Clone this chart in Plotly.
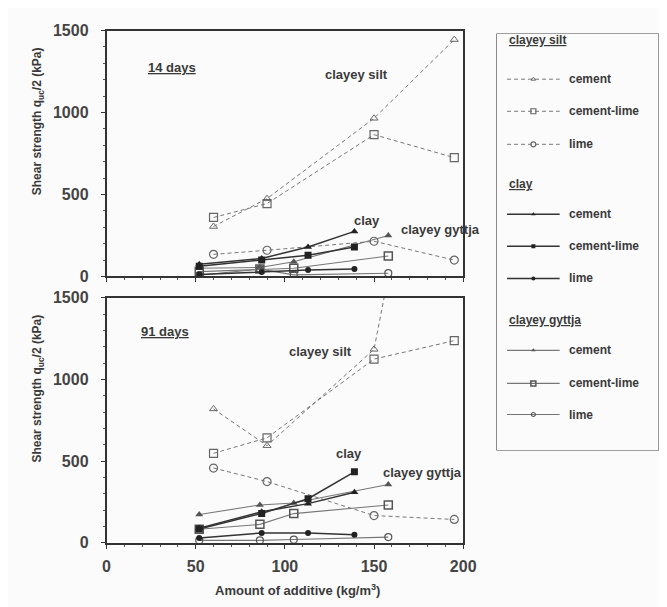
import plotly.graph_objects as go

W, H = 667, 607

# ---------------- data ----------------
x_ticks = [0, 50, 100, 150, 200]
y_ticks = [0, 500, 1000, 1500]

silt_x = [60, 90, 150, 195]
clay_x = [52, 87, 113, 139]
gyttja_x = [52, 86, 105, 158]

# 14 days
silt_cement_14 = [305, 475, 965, 1445]
silt_cementlime_14 = [360, 445, 865, 725]
silt_lime_14 = [135, 160, 215, 100]
clay_cement_14 = [75, 110, 180, 275]
clay_cementlime_14 = [62, 100, 130, 180]
clay_lime_14 = [12, 28, 40, 45]
gyttja_cement_14 = [50, 55, 90, 250]
gyttja_cementlime_14 = [30, 45, 50, 125]
gyttja_lime_14 = [8, 45, 10, 20]

# 91 days
silt_cement_91 = [820, 595, 1185, 3700]
silt_cementlime_91 = [548, 643, 1125, 1238]
silt_lime_91 = [458, 375, 167, 143]
clay_cement_91 = [90, 190, 240, 310]
clay_cementlime_91 = [85, 180, 270, 435]
clay_lime_91 = [30, 60, 60, 50]
gyttja_cement_91 = [173, 232, 244, 357]
gyttja_cementlime_91 = [83, 113, 179, 232]
gyttja_lime_91 = [15, 15, 20, 35]

# ---------------- styles ----------------
TXT = "#3a3a3a"
FONT = "Liberation Sans"
DASH = "4px,3px"
styles = {
    "silt_cement": dict(line=dict(color="#777", width=1, dash=DASH),
                        marker=dict(symbol="triangle-up-open", size=7, color="#666", line=dict(width=1))),
    "silt_cementlime": dict(line=dict(color="#777", width=1, dash=DASH),
                            marker=dict(symbol="square-open", size=8, color="#666", line=dict(width=1.2))),
    "silt_lime": dict(line=dict(color="#777", width=1, dash=DASH),
                      marker=dict(symbol="circle-open", size=8, color="#666", line=dict(width=1.2))),
    "clay_cement": dict(line=dict(color="#333", width=1.5),
                        marker=dict(symbol="triangle-up", size=7, color="#222")),
    "clay_cementlime": dict(line=dict(color="#333", width=1.5),
                            marker=dict(symbol="square", size=7, color="#222")),
    "clay_lime": dict(line=dict(color="#333", width=1.5),
                      marker=dict(symbol="circle", size=6, color="#222")),
    "gyttja_cement": dict(line=dict(color="#777", width=1.1),
                          marker=dict(symbol="triangle-up", size=7, color="#555")),
    "gyttja_cementlime": dict(line=dict(color="#777", width=1.1),
                              marker=dict(symbol="square-open", size=8, color="#555", line=dict(width=1.5))),
    "gyttja_lime": dict(line=dict(color="#777", width=1.1),
                        marker=dict(symbol="circle-open", size=7, color="#555", line=dict(width=1.2))),
}

panels = {
    ("x", "y"): [
        ("silt_cement", silt_x, silt_cement_14),
        ("silt_cementlime", silt_x, silt_cementlime_14),
        ("silt_lime", silt_x, silt_lime_14),
        ("gyttja_cement", gyttja_x, gyttja_cement_14),
        ("gyttja_cementlime", gyttja_x, gyttja_cementlime_14),
        ("gyttja_lime", gyttja_x, gyttja_lime_14),
        ("clay_cement", clay_x, clay_cement_14),
        ("clay_cementlime", clay_x, clay_cementlime_14),
        ("clay_lime", clay_x, clay_lime_14),
    ],
    ("x2", "y2"): [
        ("silt_cement", silt_x, silt_cement_91),
        ("silt_cementlime", silt_x, silt_cementlime_91),
        ("silt_lime", silt_x, silt_lime_91),
        ("gyttja_cement", gyttja_x, gyttja_cement_91),
        ("gyttja_cementlime", gyttja_x, gyttja_cementlime_91),
        ("gyttja_lime", gyttja_x, gyttja_lime_91),
        ("clay_cement", clay_x, clay_cement_91),
        ("clay_cementlime", clay_x, clay_cementlime_91),
        ("clay_lime", clay_x, clay_lime_91),
    ],
}

fig = go.Figure()
for (xa, ya), series in panels.items():
    for key, xs, ys in series:
        st = styles[key]
        fig.add_trace(go.Scatter(x=xs, y=ys, mode="lines+markers", xaxis=xa, yaxis=ya,
                                 line=st["line"], marker=st["marker"], showlegend=False,
                                 cliponaxis=True, name=key))

# ---------------- manual legend (separate hidden axes, pixel-like units) ----------------
legend_rows = [
    ("header", "clayey silt", None),
    ("item", "cement", "silt_cement"),
    ("item", "cement-lime", "silt_cementlime"),
    ("item", "lime", "silt_lime"),
    ("header", "clay", None),
    ("item", "cement", "clay_cement"),
    ("item", "cement-lime", "clay_cementlime"),
    ("item", "lime", "clay_lime"),
    ("header", "clayey gyttja", None),
    ("item", "cement", "gyttja_cement"),
    ("item", "cement-lime", "gyttja_cementlime"),
    ("item", "lime", "gyttja_lime"),
]
row_y = [25, 65, 98, 132, 173, 204, 237, 270, 313, 344, 378, 410]

annotations = []
for (kind, label, key), yy in zip(legend_rows, row_y):
    if kind == "header":
        annotations.append(dict(x=508, y=yy, xref="x3", yref="y3", text="<u>" + label + "</u>",
                                showarrow=False, xanchor="left", yanchor="middle",
                                font=dict(family=FONT, size=12, color=TXT, weight="bold")))
    else:
        st = styles[key]
        mk = dict(st["marker"])
        mk["size"] = max(mk["size"] - 3, 4)
        fig.add_trace(go.Scatter(x=[508, 535, 562], y=[yy, yy, yy], xaxis="x3", yaxis="y3",
                                 mode="lines", line=st["line"], showlegend=False, hoverinfo="skip"))
        fig.add_trace(go.Scatter(x=[535], y=[yy], xaxis="x3", yaxis="y3", mode="markers",
                                 marker=mk, showlegend=False, hoverinfo="skip"))
        annotations.append(dict(x=570, y=yy, xref="x3", yref="y3", text=label,
                                showarrow=False, xanchor="left", yanchor="middle",
                                font=dict(family=FONT, size=12, color=TXT, weight="bold")))

# ---------------- panel labels ----------------
lab_font = dict(family=FONT, size=13, color=TXT, weight="bold")
panel_labels = [
    ("x", "y", 22, 1275, "<u>14 days</u>", "left"),
    ("x", "y", 140, 1233, "clayey silt", "center"),
    ("x", "y", 146, 344, "clay", "center"),
    ("x", "y", 164, 285, "clayey gyttja", "left"),
    ("x2", "y2", 18, 1292, "<u>91 days</u>", "left"),
    ("x2", "y2", 120, 1173, "clayey silt", "center"),
    ("x2", "y2", 136, 548, "clay", "center"),
    ("x2", "y2", 154, 429, "clayey gyttja", "left"),
]
for xr, yr, xx, yy, t, anc in panel_labels:
    annotations.append(dict(x=xx, y=yy, xref=xr, yref=yr, text=t, showarrow=False,
                            xanchor=anc, yanchor="middle", font=lab_font))

def px(xp, yp):
    return xp / W, 1 - yp / H

ytitle = "Shear strength q<sub>uc</sub>/2 (kPa)"
for yc in (108, 383):
    ax_, ay_ = px(27, yc)
    annotations.append(dict(x=ax_, y=ay_, xref="paper", yref="paper", text=ytitle, textangle=-90,
                            showarrow=False, xanchor="center", yanchor="middle",
                            font=dict(family=FONT, size=12, color=TXT, weight="bold")))
ax_, ay_ = px(293, 591)
annotations.append(dict(x=ax_, y=ay_, xref="paper", yref="paper",
                        text="Amount of additive (kg/m<sup>3</sup>)", showarrow=False,
                        xanchor="center", yanchor="middle",
                        font=dict(family=FONT, size=13, color=TXT, weight="bold")))

xdom = [97 / W, 463 / W]
top_dom = [1 - 268 / H, 1 - 15 / H]
bot_dom = [1 - 542 / H, 1 - 290 / H]
tick_font = dict(family=FONT, size=16, color="#444", weight="bold")

common_x = dict(range=[0, 200], tickvals=x_ticks, showline=True, linecolor="#333", linewidth=1.5,
                mirror=True, ticks="outside", ticklen=4, tickcolor="#333", showgrid=False,
                zeroline=False, tickfont=tick_font, fixedrange=True, ticklabelstandoff=4,
                minor=dict(dtick=10, ticks="outside", ticklen=2, tickcolor="#555"))
common_y = dict(range=[0, 1500], tickvals=y_ticks, showline=True, linecolor="#333", linewidth=1.5,
                mirror=True, ticks="outside", ticklen=4, tickcolor="#333", showgrid=False,
                zeroline=False, tickfont=tick_font, fixedrange=True, ticklabelstandoff=9,
                minor=dict(dtick=100, ticks="outside", ticklen=2, tickcolor="#555"))

fig.update_layout(
    width=W, height=H, autosize=False,
    margin=dict(l=0, r=0, t=0, b=0),
    paper_bgcolor="#fbfbfb", plot_bgcolor="#fbfbfb",
    xaxis=dict(common_x, domain=xdom, anchor="y", showticklabels=False),
    yaxis=dict(common_y, domain=top_dom, anchor="x"),
    xaxis2=dict(common_x, domain=xdom, anchor="y2"),
    yaxis2=dict(common_y, domain=bot_dom, anchor="x2"),
    xaxis3=dict(domain=[497 / W, 665 / W], range=[497, 665], visible=False, fixedrange=True),
    yaxis3=dict(domain=[1 - 447 / H, 1 - 18 / H], range=[447, 18], visible=False, fixedrange=True,
                anchor="x3"),
    annotations=annotations,
    shapes=[dict(type="rect", xref="x3", yref="y3", x0=497, x1=664, y0=18, y1=447,
                 line=dict(color="#444", width=1.2), fillcolor="rgba(0,0,0,0)")],
    showlegend=False,
)

fig.write_html("out.html")
